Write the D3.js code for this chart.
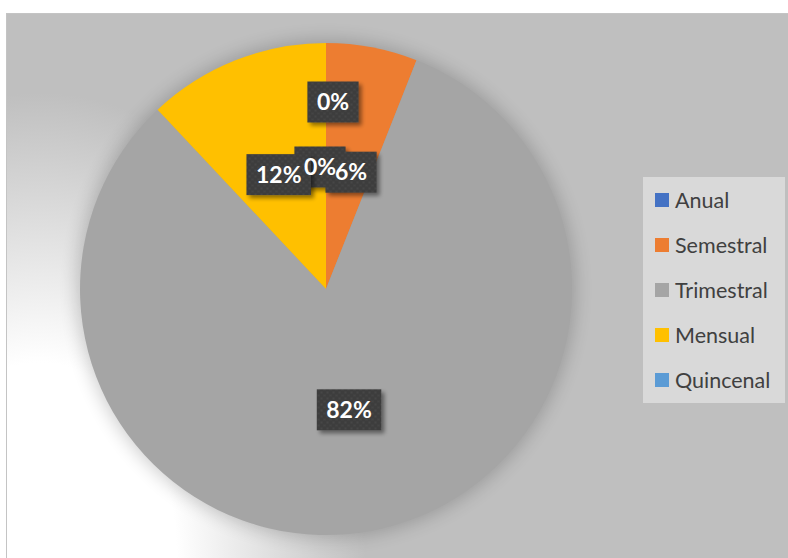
<!DOCTYPE html>
<html>
<head>
<meta charset="utf-8">
<script src="https://cdn.jsdelivr.net/npm/d3@7"></script>
<style>
  html, body { margin: 0; padding: 0; background: #ffffff; }
  svg { display: block; }
</style>
</head>
<body>
<svg id="chart" width="788" height="558"></svg>
<script>
// Periodicidad: share of responses per category (percent)
const categories = ["Anual", "Semestral", "Trimestral", "Mensual", "Quincenal"];
const values = [0, 6, 82, 12, 0];
const colors = ["#4472c4", "#ed7d31", "#a5a5a5", "#ffc000", "#5b9bd5"];

const W = 788, H = 558;
const cx = 326, cy = 289, R = 246;

const svg = d3.select("#chart");
const defs = svg.append("defs");

// background: grey panel with a soft white glow in the lower-left corner
const glow = defs.append("radialGradient")
  .attr("id", "bgGlow")
  .attr("gradientUnits", "userSpaceOnUse")
  .attr("cx", 40).attr("cy", 558).attr("r", 465)
  .attr("gradientTransform", "translate(40,558) scale(0.7,1) translate(-40,-558)");
glow.append("stop").attr("offset", "0%").attr("stop-color", "#ffffff");
glow.append("stop").attr("offset", "42%").attr("stop-color", "#ffffff");
glow.append("stop").attr("offset", "100%").attr("stop-color", "#bfbfbf");

// soft halo behind the pie
defs.append("filter").attr("id", "halo")
  .attr("x", "-20%").attr("y", "-20%").attr("width", "140%").attr("height", "140%")
  .append("feGaussianBlur").attr("stdDeviation", 9);

// drop shadow for the label boxes
const ds = defs.append("filter").attr("id", "boxShadow")
  .attr("x", "-30%").attr("y", "-30%").attr("width", "170%").attr("height", "170%");
ds.append("feGaussianBlur").attr("in", "SourceAlpha").attr("stdDeviation", 2).attr("result", "b");
ds.append("feOffset").attr("in", "b").attr("dx", 3).attr("dy", 3).attr("result", "o");
ds.append("feComponentTransfer").attr("in", "o").attr("result", "s")
  .append("feFuncA").attr("type", "linear").attr("slope", 0.45);
const dm = ds.append("feMerge");
dm.append("feMergeNode").attr("in", "s");
dm.append("feMergeNode").attr("in", "SourceGraphic");

// faint woven texture for the label boxes
const pat = defs.append("pattern").attr("id", "boxTex")
  .attr("patternUnits", "userSpaceOnUse").attr("width", 6).attr("height", 6);
pat.append("rect").attr("width", 6).attr("height", 6).attr("fill", "#3e3e3e");
pat.append("circle").attr("cx", 1.5).attr("cy", 1.5).attr("r", 1.1).attr("fill", "#474747");
pat.append("circle").attr("cx", 4.5).attr("cy", 4.5).attr("r", 1.1).attr("fill", "#454545");

// chart area
svg.append("rect")
  .attr("x", 6.5).attr("y", 13.5).attr("width", W - 6).attr("height", H - 13)
  .attr("fill", "url(#bgGlow)")
  .attr("stroke", "#c4c4c4").attr("stroke-width", 1);

const g = svg.append("g").attr("transform", `translate(${cx},${cy})`);

g.append("circle").attr("r", R + 3)
  .attr("fill", "#000").attr("opacity", 0.19)
  .attr("filter", "url(#halo)");

const pie = d3.pie().sort(null).value(d => d.value);
const arc = d3.arc().innerRadius(0).outerRadius(R);
const data = categories.map((c, i) => ({ name: c, value: values[i], color: colors[i] }));
const arcs = pie(data);

g.selectAll("path.slice")
  .data(arcs)
  .join("path")
  .attr("class", "slice")
  .attr("d", arc)
  .attr("fill", d => d.data.color);

// data labels sit on the slice centroid; the two empty slices are nudged apart
const labelNudge = { Anual: [-6, 1], Semestral: [2, 4], Trimestral: [0, 0], Mensual: [-2, 0], Quincenal: [7, -64] };
const fmt = d3.format(".0%");
const total = d3.sum(values);
const labelPos = d => {
  const [x, y] = arc.centroid(d);
  const n = labelNudge[d.data.name];
  return [x + n[0], y + n[1]];
};
const labelFont = { family: "Lato, 'Open Sans', sans-serif", size: 23 };

// boxes first, then all texts on top
const boxLayer = g.append("g");
const textLayer = g.append("g");

const texts = textLayer.selectAll("text")
  .data(arcs)
  .join("text")
  .attr("x", d => labelPos(d)[0])
  .attr("y", d => labelPos(d)[1] + 8)
  .attr("text-anchor", "middle")
  .attr("fill", "#ffffff")
  .attr("font-family", labelFont.family)
  .attr("font-weight", "bold")
  .attr("font-size", labelFont.size)
  .text(d => fmt(d.data.value / total));

const widths = texts.nodes().map(n => n.getComputedTextLength() + 19);

boxLayer.selectAll("rect")
  .data(arcs)
  .join("rect")
  .attr("x", (d, i) => labelPos(d)[0] - widths[i] / 2)
  .attr("y", d => labelPos(d)[1] - 20.5)
  .attr("width", (d, i) => widths[i])
  .attr("height", 41)
  .attr("fill", "url(#boxTex)")
  .attr("filter", "url(#boxShadow)");

// legend
const lg = svg.append("g").attr("transform", "translate(643,177)");
lg.append("rect").attr("width", 142).attr("height", 226).attr("fill", "#d9d9d9");
const items = lg.selectAll("g.item")
  .data(data)
  .join("g")
  .attr("class", "item")
  .attr("transform", (d, i) => `translate(12,${23 + i * 45})`);
items.append("rect").attr("x", 0).attr("y", -7).attr("width", 14).attr("height", 14)
  .attr("fill", d => d.color);
items.append("text")
  .attr("x", 20).attr("y", 7.5)
  .attr("fill", "#404040")
  .attr("font-family", "Lato, 'Open Sans', sans-serif")
  .attr("font-size", 21.5)
  .text(d => d.name);
</script>
</body>
</html>
